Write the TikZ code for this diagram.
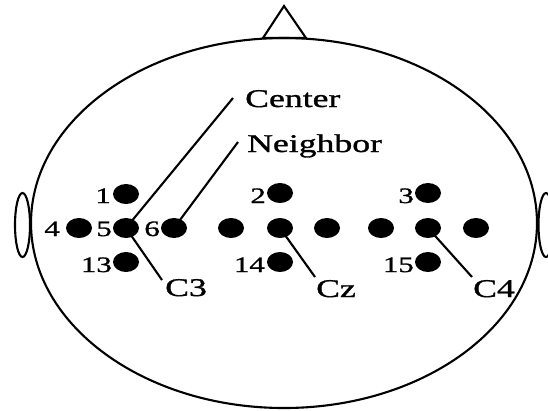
\documentclass[tikz,border=0pt]{standalone}
\usepackage{fontspec}
\setmainfont{Liberation Serif}[FakeStretch=1.4,FakeBold=1.2]
\usetikzlibrary{shapes.geometric}
\tikzset{
  electrode/.style={ellipse, fill=black, inner sep=0pt, minimum width=26pt, minimum height=20pt},
  num/.style={anchor=base east, inner sep=0pt, font=\fontsize{22}{22}\selectfont},
  tag/.style={anchor=base west, inner sep=0pt, font=\fontsize{25.5}{26}\selectfont},
  outline/.style={line width=2.1pt},
  pointer/.style={line width=2.1pt}
}
\begin{document}
\begin{tikzpicture}[x=1pt,y=-1pt]
\useasboundingbox (0,0) rectangle (548,410);
% head, nose and ears
\draw[outline] (284,223) ellipse [x radius=253, y radius=185];
\draw[outline, line join=miter] (263,38) -- (284,6) -- (306,38) -- cycle;
\draw[outline, fill=white] (22.5,225) ellipse [x radius=7.5, y radius=32];
\draw[outline, fill=white] (546,225) ellipse [x radius=7.5, y radius=32];

% label anchors
\coordinate (ctrEnd) at (233,98);
\coordinate (nbrEnd) at (238,142);
\coordinate (c3End) at (162,280);
\coordinate (czEnd) at (315,277);
\coordinate (c4End) at (472,277);

% electrodes
\node[electrode] (e1)  at (126,194) {};
\node[electrode] (e4)  at (79,228) {};
\node[electrode] (e5)  at (126,228) {};
\node[electrode] (e6)  at (174,228) {};
\node[electrode] (e13) at (126,262) {};
\node[electrode] (e2)  at (280,193) {};
\node[electrode] (e7)  at (231,228) {};
\node[electrode] (e8)  at (280,228) {};
\node[electrode] (e9)  at (327,228) {};
\node[electrode] (e14) at (280,262) {};
\node[electrode] (e3)  at (428,193) {};
\node[electrode] (e10) at (381,228) {};
\node[electrode] (e11) at (428,228) {};
\node[electrode] (e12) at (476,228) {};
\node[electrode] (e15) at (428,262) {};

% pointer lines
\draw[pointer] (e5.center) -- (ctrEnd);
\draw[pointer] (e6.center) -- (nbrEnd);
\draw[pointer] (e5.center) -- (c3End);
\draw[pointer] (e8.center) -- (czEnd);
\draw[pointer] (e11.center) -- (c4End);

% electrode numbers
\node[num] (n1)  at (111,203) {1};
\node[num] (n4)  at (60,236) {4};
\node[num] (n5)  at (112,236) {5};
\node[num] (n6)  at (160,236) {6};
\node[num] (n13) at (112,272) {13};
\node[num] (n2)  at (266,203) {2};
\node[num] (n14) at (265,272) {14};
\node[num] (n3)  at (414,203) {3};
\node[num] (n15) at (414,272) {15};

% labels
\node[tag] (lCenter) at (245,107) {Center};
\node[tag] (lNeighbor) at (247,152) {Neighbor};
\node[tag] (lC3) at (165,296) {C3};
\node[tag] (lCz) at (316,297) {Cz};
\node[tag] (lC4) at (473,297) {C4};
\end{tikzpicture}
\end{document}
